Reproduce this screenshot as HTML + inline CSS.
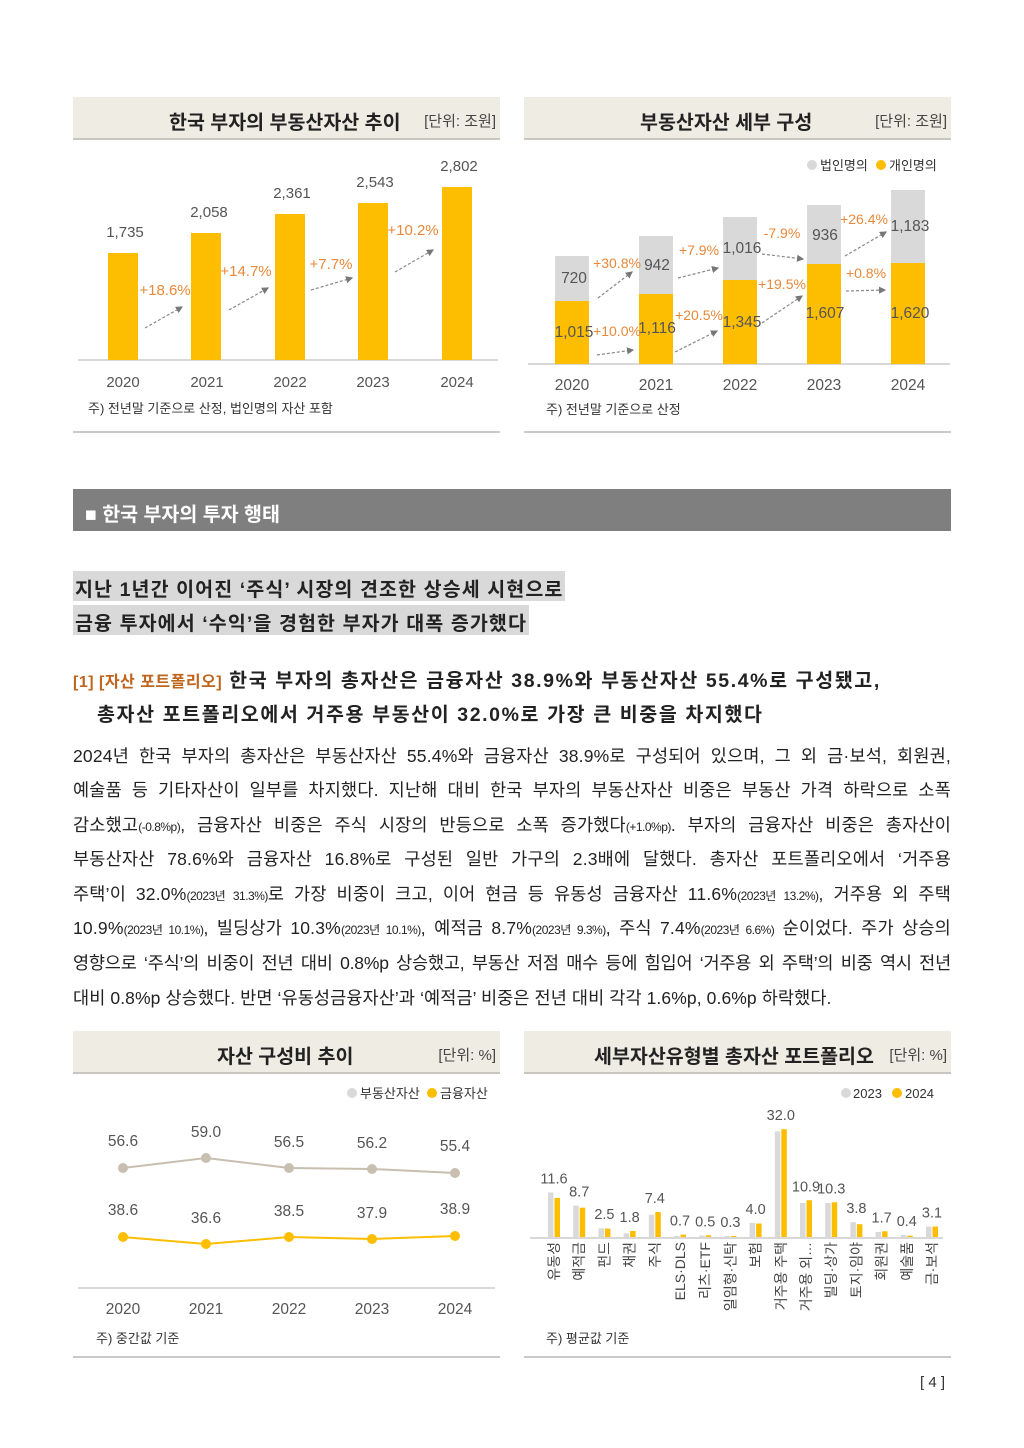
<!DOCTYPE html>
<html><head><meta charset="utf-8">
<style>
*{margin:0;padding:0;box-sizing:border-box}
body{width:1024px;height:1448px;background:#fff;position:relative;font-family:"Liberation Sans","Noto Sans CJK KR",sans-serif;color:#222;overflow:hidden}
.abs{position:absolute}
.hdr{position:absolute;height:43px;background:#efece4;border-bottom:2px solid #c9c6bf}
.hdr .t{position:absolute;top:9px;font-size:19.5px;font-weight:bold;color:#222}
.hdr .u{position:absolute;top:13px;right:4px;font-size:15px;color:#444}
.line{position:absolute;height:2px;background:#c9c9c9}
.p{position:absolute;left:73px;width:878px;font-size:17.5px;letter-spacing:0.2px;text-align:justify;text-align-last:justify;white-space:nowrap;color:#222}
.p small{font-size:12px;letter-spacing:-0.5px}
svg text{font-family:"Liberation Sans","Noto Sans CJK KR",sans-serif}
</style></head><body>

<div class="hdr" style="left:73px;top:97px;width:427px"><div class="t" style="left:96px">한국 부자의 부동산자산 추이</div><div class="u">[단위: 조원]</div></div>
<svg class="abs" style="left:0;top:0" width="1024" height="1448">
<defs><marker id="ar" markerWidth="6" markerHeight="6" refX="5" refY="3" orient="auto"><path d="M0,0 L6,3 L0,6z" fill="#777"/></marker></defs>
<line x1="78" y1="360" x2="498" y2="360" stroke="#ccc" stroke-width="1.5"/>
<g fill="#fdbd00">
<rect x="108" y="253" width="30" height="107"/><rect x="191" y="233" width="30" height="127"/><rect x="275" y="214" width="30" height="146"/><rect x="358" y="203" width="30" height="157"/><rect x="442" y="187" width="30" height="173"/></g>
<g font-size="15" fill="#555" text-anchor="middle">
<text x="125" y="237">1,735</text><text x="209" y="217">2,058</text><text x="292" y="198">2,361</text><text x="375" y="187">2,543</text><text x="459" y="171">2,802</text>
<text x="123" y="387">2020</text><text x="207" y="387">2021</text><text x="290" y="387">2022</text><text x="373" y="387">2023</text><text x="457" y="387">2024</text></g>
<g font-size="15" fill="#e8883a" text-anchor="middle">
<text x="165" y="295">+18.6%</text><text x="246" y="276">+14.7%</text><text x="331" y="269">+7.7%</text><text x="413" y="235">+10.2%</text></g>
<g stroke="#888" stroke-dasharray="3,2" stroke-width="1.2" marker-end="url(#ar)">
<line x1="145" y1="328" x2="182" y2="307"/><line x1="229" y1="310" x2="268" y2="288"/><line x1="311" y1="290" x2="352" y2="278"/><line x1="395" y1="272" x2="433" y2="250"/></g>
<text x="88" y="413" font-size="13" fill="#333">주) 전년말 기준으로 산정, 법인명의 자산 포함</text>

<line x1="528" y1="364" x2="950" y2="364" stroke="#ccc" stroke-width="1.5"/>
<g fill="#d9d9d9"><rect x="555" y="256" width="34" height="46"/><rect x="639" y="236" width="34" height="59"/><rect x="723" y="217" width="34" height="64"/><rect x="807" y="205" width="34" height="60"/><rect x="891" y="190" width="34" height="74"/></g>
<g fill="#fdbd00"><rect x="555" y="301" width="34" height="63"/><rect x="639" y="294" width="34" height="70"/><rect x="723" y="280" width="34" height="84"/><rect x="807" y="264" width="34" height="100"/><rect x="891" y="263" width="34" height="101"/></g>
<circle cx="812" cy="165" r="5" fill="#d9d9d9"/><text x="820" y="170" font-size="13" fill="#333">법인명의</text>
<circle cx="881" cy="165" r="5" fill="#fdbd00"/><text x="889" y="170" font-size="13" fill="#333">개인명의</text>
<g font-size="15.5" fill="#555" text-anchor="middle">
<text x="574" y="283">720</text><text x="657" y="270">942</text><text x="742" y="253">1,016</text><text x="825" y="240">936</text><text x="910" y="231">1,183</text>
<text x="574" y="337">1,015</text><text x="657" y="333">1,116</text><text x="742" y="327">1,345</text><text x="825" y="318">1,607</text><text x="910" y="318">1,620</text>
<text x="572" y="390">2020</text><text x="656" y="390">2021</text><text x="740" y="390">2022</text><text x="824" y="390">2023</text><text x="908" y="390">2024</text></g>
<g font-size="14" fill="#e8883a" text-anchor="middle">
<text x="617" y="268">+30.8%</text><text x="699" y="255">+7.9%</text><text x="782" y="238">-7.9%</text><text x="864" y="224">+26.4%</text>
<text x="617" y="336">+10.0%</text><text x="699" y="320">+20.5%</text><text x="782" y="289">+19.5%</text><text x="866" y="278">+0.8%</text></g>
<g stroke="#888" stroke-dasharray="3,2" stroke-width="1.2" marker-end="url(#ar)">
<line x1="598" y1="298" x2="632" y2="272"/><line x1="678" y1="278" x2="718" y2="268"/><line x1="762" y1="254" x2="803" y2="259"/><line x1="845" y1="256" x2="886" y2="232"/>
<line x1="597" y1="355" x2="633" y2="350"/><line x1="675" y1="352" x2="717" y2="331"/><line x1="762" y1="323" x2="802" y2="296"/><line x1="846" y1="291" x2="885" y2="290"/></g>
<text x="546" y="414" font-size="13" fill="#333">주) 전년말 기준으로 산정</text>

<circle cx="352" cy="1093" r="5" fill="#d9d9d9"/><text x="360" y="1098" font-size="13" fill="#333">부동산자산</text>
<circle cx="432" cy="1093" r="5" fill="#fdbd00"/><text x="440" y="1098" font-size="13" fill="#333">금융자산</text>
<polyline points="123,1168 206,1158 289,1168 372,1169 455,1173" fill="none" stroke="#c8bfb0" stroke-width="2"/>
<g fill="#c8bfb0"><circle cx="123" cy="1168" r="5"/><circle cx="206" cy="1158" r="5"/><circle cx="289" cy="1168" r="5"/><circle cx="372" cy="1169" r="5"/><circle cx="455" cy="1173" r="5"/></g>
<polyline points="123,1237 206,1244 289,1237 372,1239 455,1236" fill="none" stroke="#fdbd00" stroke-width="2"/>
<g fill="#fdbd00"><circle cx="123" cy="1237" r="5"/><circle cx="206" cy="1244" r="5"/><circle cx="289" cy="1237" r="5"/><circle cx="372" cy="1239" r="5"/><circle cx="455" cy="1236" r="5"/></g>
<g font-size="15.5" fill="#555" text-anchor="middle">
<text x="123" y="1146">56.6</text><text x="206" y="1137">59.0</text><text x="289" y="1147">56.5</text><text x="372" y="1148">56.2</text><text x="455" y="1151">55.4</text>
<text x="123" y="1215">38.6</text><text x="206" y="1223">36.6</text><text x="289" y="1216">38.5</text><text x="372" y="1218">37.9</text><text x="455" y="1214">38.9</text>
<text x="123" y="1314">2020</text><text x="206" y="1314">2021</text><text x="289" y="1314">2022</text><text x="372" y="1314">2023</text><text x="455" y="1314">2024</text></g>
<line x1="78" y1="1288" x2="495" y2="1288" stroke="#ccc" stroke-width="1.5"/>
<text x="96" y="1343" font-size="13" fill="#333">주) 중간값 기준</text>

<circle cx="846" cy="1093" r="5" fill="#d9d9d9"/><text x="853" y="1098" font-size="13" fill="#333">2023</text>
<circle cx="897" cy="1093" r="5" fill="#fdbd00"/><text x="905" y="1098" font-size="13" fill="#333">2024</text>
<line x1="530" y1="1238" x2="943" y2="1238" stroke="#ccc" stroke-width="1.5"/>
<g id="c4"></g>
<text x="546" y="1343" font-size="13" fill="#333">주) 평균값 기준</text>
</svg>

<div class="line" style="left:73px;top:431px;width:427px"></div>
<div class="hdr" style="left:524px;top:97px;width:427px"><div class="t" style="left:116px">부동산자산 세부 구성</div><div class="u">[단위: 조원]</div></div>
<div class="line" style="left:524px;top:431px;width:427px"></div>

<div class="abs" style="left:73px;top:489px;width:878px;height:42px;background:#7f7f7f;color:#fff;font-size:19.5px;font-weight:bold;padding:9px 0 0 12px">■ 한국 부자의 투자 행태</div>

<div class="abs" style="left:73px;top:571px;height:30px;background:#d9d9d9;font-size:19.5px;font-weight:bold;padding:2px 2px 0 2px;letter-spacing:1.1px;white-space:nowrap">지난 1년간 이어진 ‘주식’ 시장의 견조한 상승세 시현으로</div>
<div class="abs" style="left:73px;top:605px;height:30px;background:#d9d9d9;font-size:19.5px;font-weight:bold;padding:2px 2px 0 2px;letter-spacing:1.1px;white-space:nowrap">금융 투자에서 ‘수익’을 경험한 부자가 대폭 증가했다</div>

<div class="abs" style="left:73px;top:664px;font-size:19.5px;font-weight:bold;white-space:nowrap;letter-spacing:1.6px"><span style="color:#c0651d;font-size:16px;letter-spacing:0.5px">[1] [자산 포트폴리오]</span> 한국 부자의 총자산은 금융자산 38.9%와 부동산자산 55.4%로 구성됐고,</div>
<div class="abs" style="left:97px;top:698px;font-size:19.5px;font-weight:bold;white-space:nowrap;letter-spacing:1.6px">총자산 포트폴리오에서 거주용 부동산이 32.0%로 가장 큰 비중을 차지했다</div>

<div class="p" style="top:743px">2024년 한국 부자의 총자산은 부동산자산 55.4%와 금융자산 38.9%로 구성되어 있으며, 그 외 금·보석, 회원권,</div>
<div class="p" style="top:777px">예술품 등 기타자산이 일부를 차지했다. 지난해 대비 한국 부자의 부동산자산 비중은 부동산 가격 하락으로 소폭</div>
<div class="p" style="top:812px">감소했고<small>(-0.8%p)</small>, 금융자산 비중은 주식 시장의 반등으로 소폭 증가했다<small>(+1.0%p)</small>. 부자의 금융자산 비중은 총자산이</div>
<div class="p" style="top:846px">부동산자산 78.6%와 금융자산 16.8%로 구성된 일반 가구의 2.3배에 달했다. 총자산 포트폴리오에서 ‘거주용</div>
<div class="p" style="top:881px">주택’이 32.0%<small>(2023년 31.3%)</small>로 가장 비중이 크고, 이어 현금 등 유동성 금융자산 11.6%<small>(2023년 13.2%)</small>, 거주용 외 주택</div>
<div class="p" style="top:915px">10.9%<small>(2023년 10.1%)</small>, 빌딩상가 10.3%<small>(2023년 10.1%)</small>, 예적금 8.7%<small>(2023년 9.3%)</small>, 주식 7.4%<small>(2023년 6.6%)</small> 순이었다. 주가 상승의</div>
<div class="p" style="top:950px;letter-spacing:-0.2px">영향으로 ‘주식’의 비중이 전년 대비 0.8%p 상승했고, 부동산 저점 매수 등에 힘입어 ‘거주용 외 주택’의 비중 역시 전년</div>
<div class="p" style="top:985px;text-align-last:left;letter-spacing:0.1px">대비 0.8%p 상승했다. 반면 ‘유동성금융자산’과 ‘예적금’ 비중은 전년 대비 각각 1.6%p, 0.6%p 하락했다.</div>

<div class="hdr" style="left:73px;top:1031px;width:427px"><div class="t" style="left:144px">자산 구성비 추이</div><div class="u">[단위: %]</div></div>
<div class="line" style="left:73px;top:1356px;width:427px"></div>
<div class="hdr" style="left:524px;top:1031px;width:427px"><div class="t" style="left:70px">세부자산유형별 총자산 포트폴리오</div><div class="u">[단위: %]</div></div>
<div class="line" style="left:524px;top:1356px;width:427px"></div>

<div class="abs" style="left:920px;top:1374px;font-size:15px;color:#333">[ 4 ]</div>

<script>
var cats=["유동성","예적금","펀드","채권","주식","ELS·DLS","리츠·ETF","일임형·신탁","보험","거주용 주택","거주용 외…","빌딩·상가","토지·임야","회원권","예술품","금·보석"];
var v24=[11.6,8.7,2.5,1.8,7.4,0.7,0.5,0.3,4.0,32.0,10.9,10.3,3.8,1.7,0.4,3.1];
var v23=[13.2,9.3,2.6,1.1,6.6,0.3,0.4,0.3,4.2,31.3,10.1,10.1,4.4,1.5,0.6,3.1];
var g=document.getElementById('c4'),s="";
var sc=3.37,base=1237;
for(var i=0;i<16;i++){var cx=554+i*25.2;
var h3=v23[i]*sc,h4=v24[i]*sc;
s+='<rect x="'+(cx-6)+'" y="'+(base-h3)+'" width="5.5" height="'+h3+'" fill="#d9d9d9"/>';
s+='<rect x="'+(cx+0.5)+'" y="'+(base-h4)+'" width="5.5" height="'+h4+'" fill="#fdbd00"/>';
var ty=base-Math.max(h3,h4)-9;
s+='<text x="'+cx+'" y="'+ty+'" font-size="14.5" fill="#555" text-anchor="middle">'+v24[i].toFixed(1)+'</text>';
s+='<text transform="translate('+(cx+5)+','+(base+5)+') rotate(-90)" font-size="14" fill="#444" text-anchor="end">'+cats[i]+'</text>';}
g.innerHTML=s;
</script>
</body></html>
